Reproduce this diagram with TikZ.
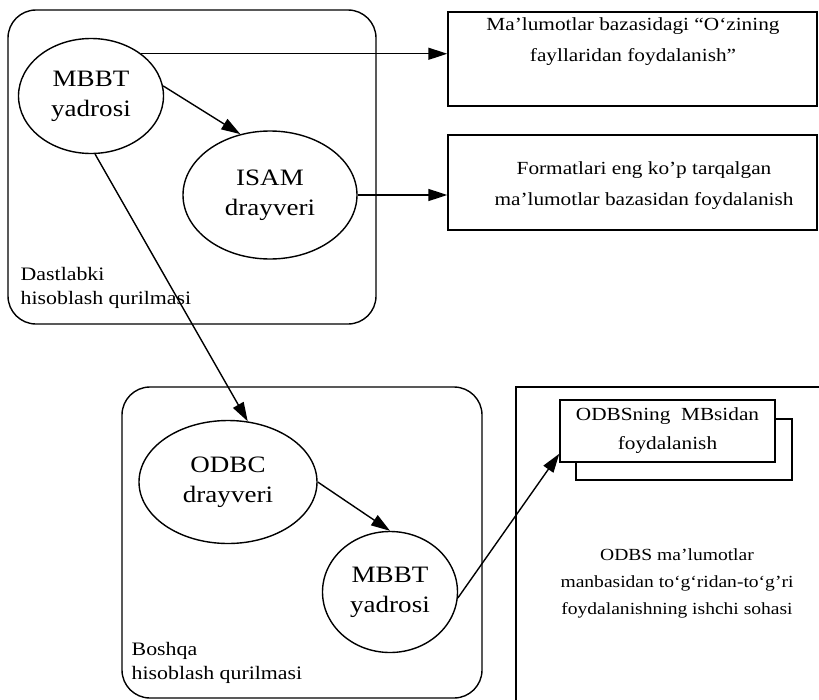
\documentclass[tikz,border=0pt]{standalone}
\usepackage{fontspec}
\setmainfont[FakeStretch=1.15]{Liberation Serif}
\usetikzlibrary{arrows.meta,shapes.geometric,calc}
\begin{document}
\begin{tikzpicture}[x=1pt,y=-1pt, line width=1.4pt,
  arr/.style={-{Triangle[length=19pt,width=12pt]}},
  ell/.style={draw, ellipse, inner sep=0pt, align=center, font=\fontsize{23.5}{30}\selectfont},
  grp/.style={draw, rounded corners=28pt},
  lbl/.style={anchor=north west, inner sep=0pt, align=left, font=\fontsize{19}{24}\selectfont},
  box/.style={draw, rectangle, inner sep=0pt},
  txt/.style={inner sep=0pt, align=center, font=\fontsize{18.5}{31}\selectfont}
]
\clip (0,0) rectangle (819,699);
% group frames
\draw[grp] (8,10) rectangle (376,324);
\draw[grp] (122,387) rectangle (482,698);
\draw (516,720) -- (516,387) -- (840,387);
% ellipses
\node[ell, minimum width=145pt, minimum height=115pt] (mbA) at (91,96) {MBBT\\yadrosi};
\node[ell, minimum width=174pt, minimum height=128pt] (isam) at (270,195) {ISAM\\drayveri};
\node[ell, minimum width=178pt, minimum height=123pt] (odbc) at (228,482) {ODBC\\drayveri};
\node[ell, minimum width=135pt, minimum height=121pt] (mbB) at (390,592) {MBBT\\yadrosi};
% labels
\node[lbl] (lblA) at (20,267) {Dastlabki\\hisoblash qurilmasi};
\node[lbl] (lblB) at (131,642) {Boshqa\\hisoblash qurilmasi};
% right rectangles
\node[box, minimum width=369pt, minimum height=94pt] (r1) at (632.5,59) {};
\node[txt, anchor=north] (r1t) at (633,17) {Ma’lumotlar bazasidagi “O‘zining\\fayllaridan foydalanish”};
\node[box, minimum width=369pt, minimum height=95pt] (r2) at (632.5,182.5) {};
\node[txt] (r2t) at (644,186) {Formatlari eng ko’p tarqalgan\\ma’lumotlar bazasidan foydalanish};
% ODBS box with shadow
\draw (775,419) -- (792,419) -- (792,480) -- (576,480) -- (576,462);
\node[box, fill=white, minimum width=215pt, minimum height=62pt, align=center, font=\fontsize{18.5}{29}\selectfont] (odbs) at (667.5,431) {ODBSning~ MBsidan\\foydalanish};
\node[inner sep=0pt, align=center, font=\fontsize{17}{27}\selectfont] (area) at (677,583) {ODBS ma’lumotlar\\manbasidan to‘g‘ridan-to‘g’ri\\foydalanishning ishchi sohasi};
% connectors
\draw[arr] (mbA.40) -- (mbA.40 -| r1.west);
\draw[arr] (mbA.8) -- (isam.116);
\draw[arr] (mbA.-86) -- (odbc.72);
\draw[arr] (isam.east) -- (isam.east -| r2.west);
\draw[arr] (odbc.east) -- (mbB.north);
\draw[arr] (mbB.-5) -- ($(odbs.south west)+(0,-9)$);
\end{tikzpicture}
\end{document}
